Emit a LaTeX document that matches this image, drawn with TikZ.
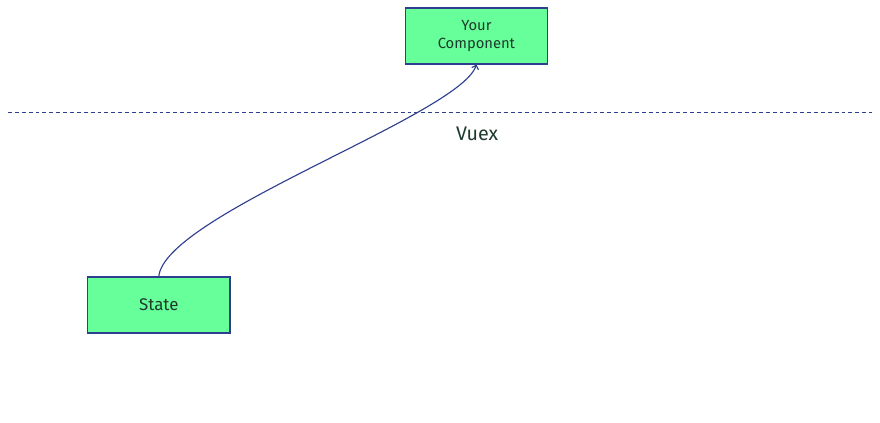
\documentclass[tikz,border=0pt]{standalone}
\usepackage{tikz}
\usepackage{xcolor}
\usepackage{fontspec}
\setmainfont{Fira Sans}
\usetikzlibrary{arrows.meta}
\definecolor{boxgreen}{HTML}{66FF99}
\definecolor{edgeblue}{HTML}{2E3F8F}
\definecolor{inkgreen}{HTML}{1E3A2C}

\begin{document}
	\begin{tikzpicture}[
			box/.style={draw=edgeblue,fill=boxgreen,line width=0.8pt,minimum width=3.56cm,minimum height=1.4cm,align=center,text=inkgreen,font=\fontsize{10.5}{12.5}\selectfont}
		]
		\useasboundingbox [fill=white] (0,0) rectangle (22,10.55);
		%
		\node [box] (comp) at (11.91,9.65) {Your\\Component};
		\node [box,font=\fontsize{12}{14}\selectfont] (state) at (3.97,2.925) {State};
		%
		\coordinate (vleft) at (0.2,7.75);
		\coordinate (vright) at (21.8,7.75);
		\draw [edgeblue,line width=0.7pt,dash pattern=on 2.8pt off 2.1pt] (vleft) -- (vright);
		\node [text=inkgreen,font=\fontsize{14}{16}\selectfont] (vuex) at (11.93,7.2) {Vuex};
		%
		\draw [edgeblue,line width=0.8pt,-{Straight Barb[length=2.5pt,width=5pt]}] (state.north) .. controls (4.12,5.18) and (11.5,7.68) .. (comp.south);
	\end{tikzpicture}
\end{document}
